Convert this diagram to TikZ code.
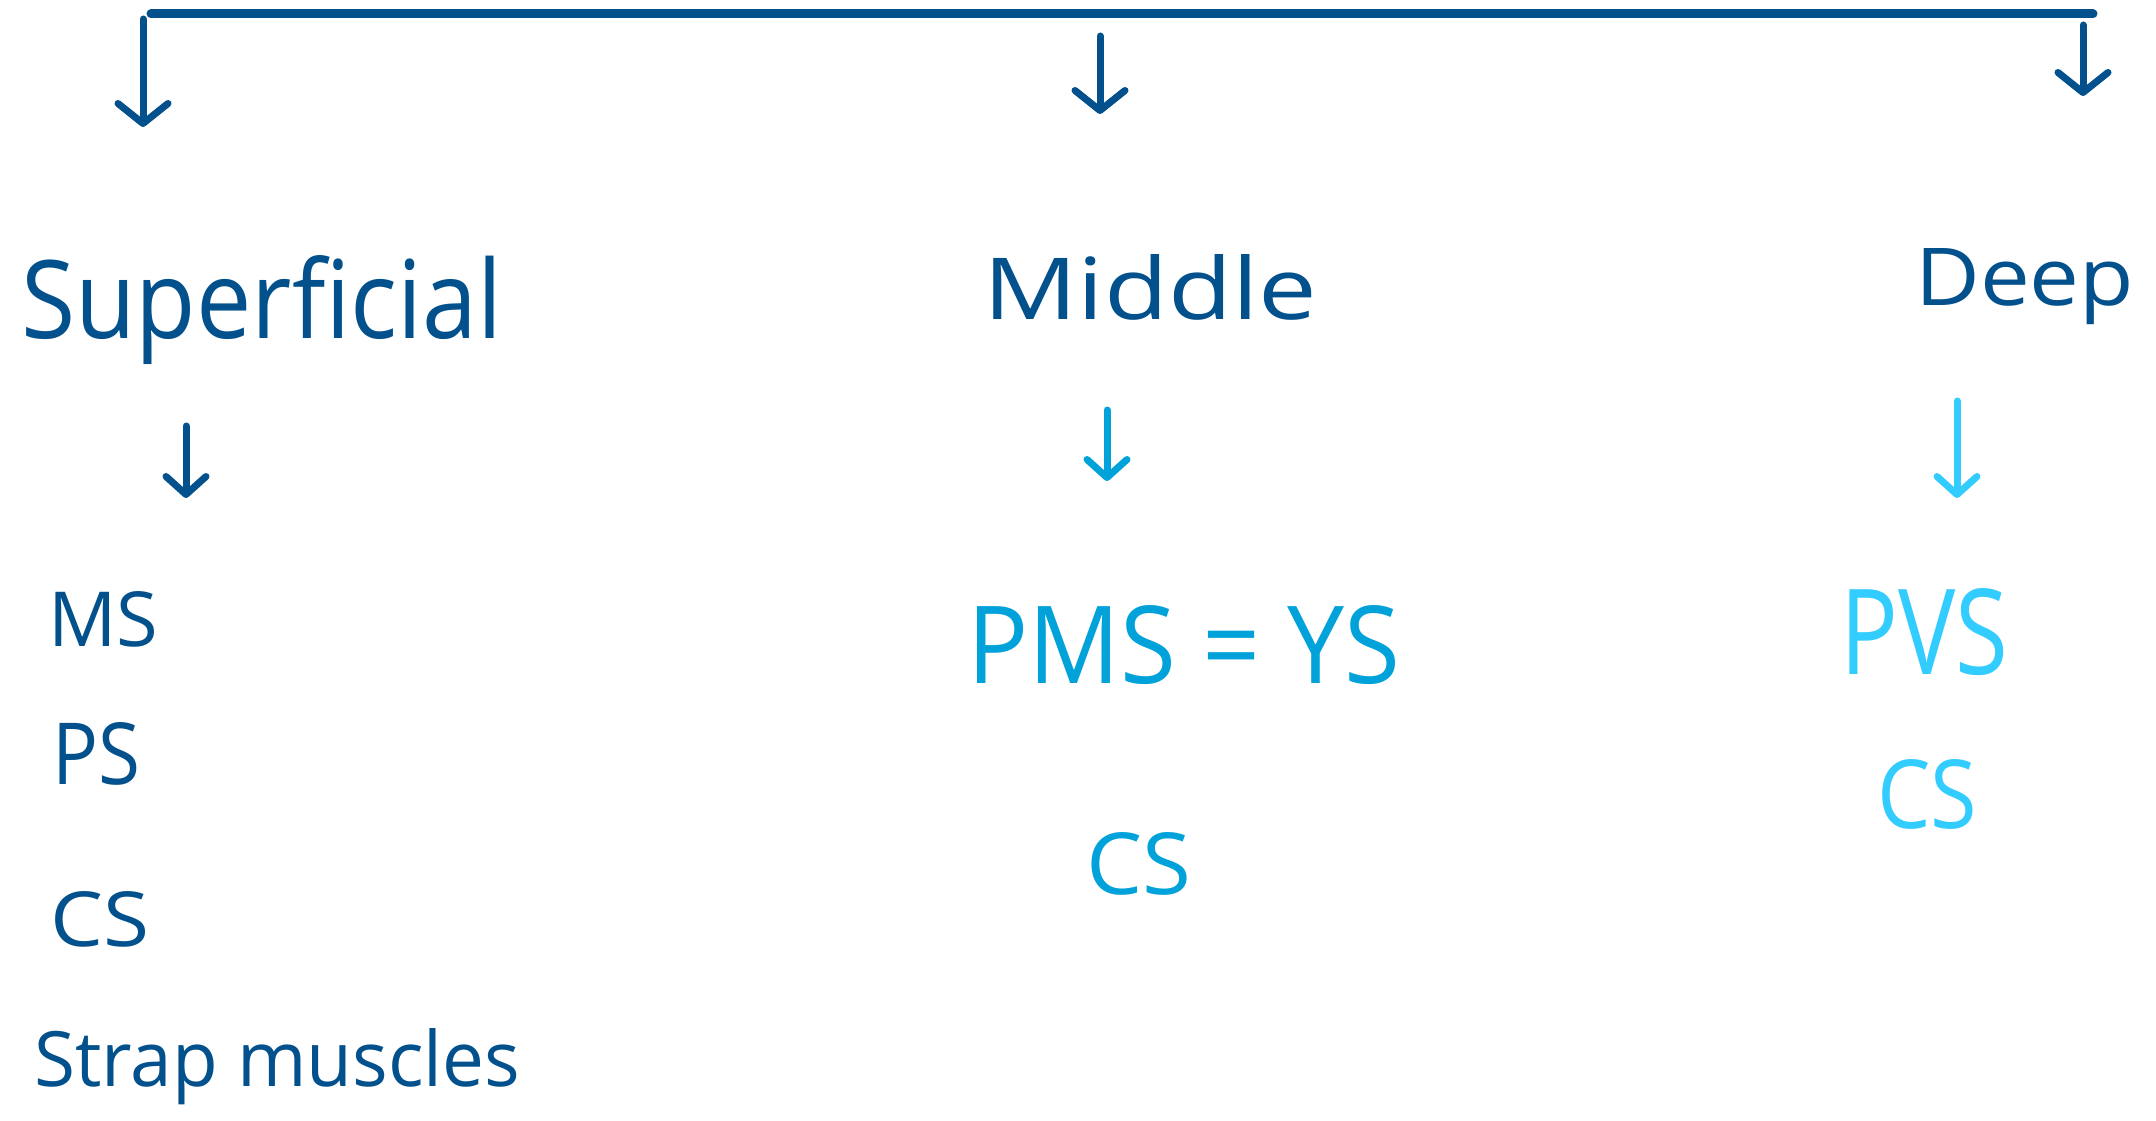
\documentclass[tikz,border=0pt]{standalone}
\usepackage{fontspec}
\setmainfont{Open Sans}
\usepackage{graphicx}
\usetikzlibrary{arrows.meta}
\definecolor{ink}{HTML}{02508C}
\definecolor{inkmid}{HTML}{00A2D9}
\definecolor{inklight}{HTML}{33CCFF}
% word set to a given width and height above the baseline
\newcommand{\hw}[3]{\resizebox{#1}{#2}{#3}}
\begin{document}
\begin{tikzpicture}[x=1pt,y=-1pt,
  lbl/.style={inner sep=0pt, anchor=base west, font=\fontsize{80}{96}\selectfont},
  bar/.style={line width=9pt, line cap=round},
  arr/.style={line width=7pt, line cap=round, line join=round,
    -{Straight Barb[length=20pt,width=50pt,round]}},
  subarr/.style={line width=7pt, line cap=round, line join=round,
    -{Straight Barb[length=18pt,width=40pt,round]}},
]
\useasboundingbox (0,0) rectangle (2156,1121);

% headings
\node[lbl, text=ink] (sup) at (21,338) {\hw{481pt}{83pt}{Superficial}};
\node[lbl, text=ink] (mid) at (983,319) {\hw{334pt}{65pt}{Middle}};
\node[lbl, text=ink] (dee) at (1915,305) {\hw{219pt}{57pt}{Deep}};

% superficial layer
\node[lbl, text=ink] (ms) at (48,646) {\hw{110pt}{55pt}{MS}};
\node[lbl, text=ink] (ps) at (52,784) {\hw{88pt}{62pt}{PS}};
\node[lbl, text=ink] (csa) at (50,946) {\hw{99pt}{55pt}{CS}};
\node[lbl, text=ink] (strap) at (34,1086) {\hw{486pt}{58pt}{Strap muscles}};

% middle layer
\node[lbl, text=inkmid] (pms) at (967,683) {\hw{433pt}{78pt}{PMS = YS}};
\node[lbl, text=inkmid] (csb) at (1086,894) {\hw{105pt}{62pt}{CS}};

% deep layer
\node[lbl, text=inklight] (pvs) at (1840,674) {\hw{168pt}{86pt}{PVS}};
\node[lbl, text=inklight] (csc) at (1877,828) {\hw{100pt}{69pt}{CS}};

% top bracket and its three branches
\coordinate (barL) at (151,14);
\coordinate (barR) at (2093,14);
\draw[bar, ink] (barL) -- (barR);

\coordinate (tL) at (143,19);   \coordinate (hL) at (143,127);
\coordinate (tM) at (1100,36);  \coordinate (hM) at (1100,114);
\coordinate (tR) at (2083,25);  \coordinate (hR) at (2083,96);
\draw[arr, ink] (tL) -- (hL);
\draw[arr, ink] (tM) -- (hM);
\draw[arr, ink] (tR) -- (hR);

% arrows from each heading to its list
\coordinate (sL1) at (186,426);  \coordinate (sL2) at (186,498);
\coordinate (sM1) at (1107,410); \coordinate (sM2) at (1107,481);
\coordinate (sR1) at (1957,401); \coordinate (sR2) at (1957,498);
\draw[subarr, ink] (sL1) -- (sL2);
\draw[subarr, inkmid] (sM1) -- (sM2);
\draw[subarr, inklight] (sR1) -- (sR2);
\end{tikzpicture}
\end{document}
